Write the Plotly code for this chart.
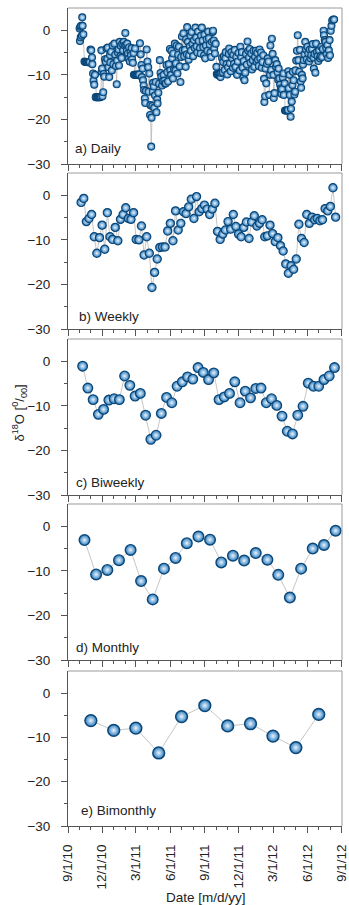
import pandas as pd
import plotly.graph_objects as go

# ---------------- data ----------------
START = "2010-09-01"

# daily samples: day offset from 9/1/2010 and value
daily_day = [31, 32, 33, 34, 35, 37, 38, 39, 41, 44, 46, 48, 50, 52, 54, 56, 58,
             60, 62, 64, 65, 67, 68, 70, 72,
             74, 76, 78, 80, 82, 84, 86, 88, 89, 90, 91, 92, 94, 95, 97,
             99, 101, 103, 105, 106, 108, 110, 112, 113, 115, 117, 119, 121, 124, 126,
             128, 130, 131, 133, 135, 136, 138, 140, 141, 143, 145, 147, 149, 151, 153, 155,
             157, 158, 160, 162, 163, 165, 167, 168, 170, 171, 173, 175,
             176, 178, 179, 180, 182, 184, 186, 188, 190,
             192, 194, 196, 197, 199, 200, 202, 203, 205, 206, 208, 210, 212, 214, 215, 217,
             219, 220, 222, 223, 225, 226, 227, 229, 230, 232, 234, 236, 238, 239, 241, 243,
             245, 247, 249, 251, 253, 255, 257, 259, 261, 263, 265, 267, 269,
             272, 273, 275, 276, 278, 280, 281, 283, 285, 287, 288, 290, 292, 294, 296, 298, 300, 302, 304, 306, 308, 310,
             312, 314, 315, 317, 318, 320, 322, 323, 325, 327, 328, 330, 332, 334, 336, 338, 340, 342, 343, 345, 347, 349,
             352, 354, 355, 357, 359, 361, 363, 364, 366, 368, 370, 372, 374, 376, 378, 380, 382, 384, 386, 387, 389, 390, 392, 394,
             396, 397, 399, 401, 403, 405, 407, 409,
             411, 413, 414, 416, 418, 420, 421, 423, 425, 427, 429, 430, 432, 434, 436, 438, 440, 441, 443, 445, 447, 449, 451, 453, 455,
             458, 460, 462, 464, 466, 468, 469, 471, 473, 475, 477, 479, 481, 483, 485, 487, 489, 491, 493, 495, 497,
             499, 501, 503, 505, 507, 509, 511, 513, 515, 517, 519, 521, 523, 524, 526, 527, 529, 531,
             533, 535, 537, 539, 540, 542, 544, 546, 548, 549, 551, 553, 555,
             557, 559, 561, 562, 564, 566, 568, 570, 571, 573, 575, 576, 578, 579, 581, 583, 585, 587, 588, 589, 591, 592, 594, 595,
             597, 599, 600, 602, 604, 606, 607, 609, 611, 613, 615, 617,
             619, 621, 622, 624, 626, 627, 629, 631, 633, 635, 637, 639, 641, 643, 645, 647, 649,
             651, 653, 655, 656, 658, 660, 662, 664, 666, 668, 670, 672, 674, 676, 678, 680, 682, 683, 685,
             687, 689, 690, 692, 694, 696, 698, 699, 701, 703, 705, 708, 710]
daily_val = [0.4, -2.4, 0.8, -1.6, 1.0, -1.2, 2.9, 1.0, -0.9, -7.0, -7.1, -7.1, -7.1, -7.1, -7.1, -7.2, -7.1,
             -4.3, -4.5, -6.1, -7.6, -9.7, -11.3, -12.2, -10.0,
             -15.0, -15.0, -15.0, -15.0, -15.0, -15.0, -15.0, -14.9, -4.5, -9.3, -8.6, -14.8, -13.9, -9.8, -10.4,
             -6.5, -7.1, -4.1, -6.4, -3.9, -8.3, -10.5, -5.6, -7.2, -4.8, -9.0, -3.4, -7.6, -3.0, -5.5,
             -8.0, -12.1, -6.8, -5.0, -4.3, -7.9, -2.6, -5.8, -3.5, -6.2, -3.0, -4.5, -2.6, -3.4, -0.6, -3.3,
             -4.6, -3.0, -5.2, -6.4, -3.8, -7.0, -4.9, -5.6, -4.0, -6.5, -7.3, -5.1,
             -10.0, -10.0, -4.1, -10.0, -10.0, -10.0, -10.0, -10.0, -9.9,
             -2.9, -5.4, -7.8, -10.5, -8.6, -11.2, -12.4, -13.4, -15.3, -16.3, -13.6, -4.3, -7.0, -8.3, -13.8, -9.7,
             -19.0, -16.8, -26.1, -19.6, -17.0, -13.8, -11.8, -12.6, -17.4, -14.6, -11.6, -18.4, -15.5, -16.4, -14.0, -12.0,
             -6.7, -9.6, -10.4, -12.4, -11.4, -10.0, -11.3, -12.0, -11.9, -7.8, -9.4, -11.5, -7.6,
             -4.2, -9.0, -10.0, -4.6, -6.3, -10.8, -5.2, -8.8, -3.0, -9.0, -7.4, -3.4, -9.7, -5.5, -3.7, -8.1, -11.6, -6.0, -1.4, -4.5, -0.7, -5.8,
             -4.4, -8.2, -2.0, -5.4, 0.7, -2.6, -6.6, -5.6, -3.6, -1.2, -4.6, -0.4, -3.0, -5.8, -2.2, -4.0, 0.6, -1.6, -3.6, -5.0, -0.3, -2.4,
             -4.0, -5.2, -1.2, 0.6, -2.3, -3.8, -5.6, -1.0, -6.3, -3.4, -2.0, -4.6, -0.3, -1.8, -3.2, -5.0, -6.0, -2.6, -0.4, -0.1, -2.3, -4.1, -5.2, -3.0,
             -8.2, -9.8, -10.0, -10.0, -10.0, -9.9, -10.5, -9.6,
             -6.2, -9.4, -7.1, -5.8, -8.9, -6.3, -4.9, -7.6, -9.9, -8.3, -5.3, -4.1, -7.4, -9.2, -4.9, -6.3, -8.4, -5.5, -7.5, -4.4, -8.2, -6.0, -10.0, -7.0, -5.1,
             -9.0, -3.7, -6.0, -4.9, -8.4, -10.6, -6.9, -11.2, -9.5, -5.3, -7.7, -2.5, -4.6, -6.1, -4.2, -7.3, -5.2, -8.8, -6.7, -4.6, -8.2,
             -6.0, -4.6, -7.0, -5.1, -6.6, -8.0, -4.3, -6.3, -5.0, -8.4, -7.1, -5.6, -10.9, -16.1, -14.8, -8.6, -11.9, -7.5,
             -6.3, -7.0, -14.5, -10.0, -3.4, -8.9, -1.9, -5.3, -10.0, -15.2, -14.1, -6.7, -8.2,
             -7.6, -9.4, -11.1, -8.6, -10.8, -12.2, -13.0, -14.3, -13.2, -10.6, -9.7, -14.5, -11.9, -18.0, -18.0, -18.0, -18.0, -17.9, -9.2, -13.0, -10.0, -14.5, -19.4, -17.6,
             -16.0, -12.3, -9.3, -11.2, -14.4, -13.8, -9.0, -6.8, -4.6, -1.1, -6.7, -9.3,
             -4.4, -11.5, -12.9, -10.0, -10.8, -7.7, -6.7, -5.4, -2.6, -4.3, -6.5, -3.7, -5.2, -7.0, -4.3, -6.3, -5.6,
             -4.2, -3.1, -6.1, -8.6, -5.3, -9.5, -3.0, -4.9, -5.8, -6.9, -4.5, -6.3, -5.8, -3.7, -6.0, -4.2, -0.1, -1.1, -2.2,
             -2.6, -4.0, -5.4, -3.3, -6.2, -4.5, -2.2, -5.6, -0.1, 1.0, 2.2, 2.4, 2.4]

weekly_start = "2010-10-06"
weekly_val = [-1.6, -0.7, -5.9, -5.2, -4.3, -9.3, -13.0, -9.5, -6.7, -12.1,
              -3.9, -9.3, -9.9, -7.2, -10.2, -5.4, -4.3, -2.8, -5.2, -5.4,
              -3.9, -9.9, -10.0, -6.9, -13.4, -9.3, -13.0, -20.7, -17.3, -14.3,
              -11.7, -11.6, -11.6, -8.0, -6.3, -10.2, -3.5, -7.8, -6.3, -3.7,
              -4.1, -2.6, -0.9, -5.2, -0.3, -3.7, -3.0, -2.2, -3.1, -4.3,
              -3.1, -1.8, -8.1, -9.9, -8.7, -7.8, -5.9, -7.6, -4.3, -7.0,
              -8.7, -9.3, -7.2, -6.0, -9.7, -6.0, -4.6, -6.9, -6.3, -5.5,
              -9.3, -9.1, -6.7, -8.6, -10.4, -9.5, -11.3, -12.5, -15.4, -17.5,
              -15.8, -16.6, -14.3, -6.5, -9.7, -10.6, -4.3, -6.3, -4.9, -5.5,
              -5.2, -5.7, -5.5, -3.0, -3.5, -2.5, 1.7, -4.9]

biweekly_start = "2010-10-10"
biweekly_val = [-1.1, -6.0, -8.6, -11.9, -10.8, -8.7, -8.4, -8.6, -3.3, -5.4,
                -7.8, -7.2, -12.1, -17.5, -16.6, -11.7, -8.1, -9.3, -5.6, -4.6,
                -3.5, -4.0, -1.4, -2.5, -4.1, -2.6, -8.6, -8.0, -7.2, -4.6,
                -9.3, -6.7, -8.2, -6.1, -6.0, -9.3, -8.4, -9.9, -12.3, -15.7,
                -16.3, -12.1, -10.1, -4.9, -5.6, -5.6, -4.1, -3.3, -1.4]

monthly_dates = ["2010-10-15", "2010-11-15", "2010-12-15", "2011-01-15", "2011-02-15",
                 "2011-03-15", "2011-04-15", "2011-05-15", "2011-06-15", "2011-07-15",
                 "2011-08-15", "2011-09-15", "2011-10-15", "2011-11-15", "2011-12-15",
                 "2012-01-15", "2012-02-15", "2012-03-15", "2012-04-15", "2012-05-15",
                 "2012-06-15", "2012-07-15", "2012-08-15"]
monthly_val = [-3.1, -10.8, -9.8, -7.6, -5.3, -12.3, -16.4, -9.5, -7.1, -3.8,
               -2.3, -3.0, -8.1, -6.6, -7.7, -6.0, -7.5, -10.9, -16.0, -9.5,
               -5.0, -4.2, -1.0]

bimonthly_dates = ["2010-11-01", "2011-01-01", "2011-03-01", "2011-05-01", "2011-07-01",
                   "2011-09-01", "2011-11-01", "2012-01-01", "2012-03-01", "2012-05-01",
                   "2012-07-01"]
bimonthly_val = [-6.2, -8.4, -7.9, -13.5, -5.3, -2.8, -7.4, -6.9, -9.7, -12.3, -4.8]

panel_labels = ["a) Daily", "b) Weekly", "c) Biweekly", "d) Monthly", "e) Bimonthly"]
y_ticks = [-30, -20, -10, 0]
x_ticks = ["2010-09-01", "2010-12-01", "2011-03-01", "2011-06-01", "2011-09-01",
           "2011-12-01", "2012-03-01", "2012-06-01", "2012-09-01"]

# ---------------- build ----------------
start = pd.Timestamp(START)
daily_x = [start + pd.Timedelta(days=d) for d in daily_day]
weekly_x = pd.date_range(weekly_start, periods=len(weekly_val), freq="7D")
biweekly_x = pd.date_range(biweekly_start, periods=len(biweekly_val), freq="14D")

series = [
    (daily_x, daily_val, 7.0, 1.1),
    (weekly_x, weekly_val, 8.2, 1.2),
    (biweekly_x, biweekly_val, 9.6, 1.3),
    (pd.to_datetime(monthly_dates), monthly_val, 10.6, 1.4),
    (pd.to_datetime(bimonthly_dates), bimonthly_val, 11.8, 1.5),
]

W, H = 349, 905
ML, MR, MT, MB = 68, 7, 8, 79
PH = H - MT - MB
# panel pixel extents (top, bottom)
panels_px = [(8, 164), (173, 329), (339, 495), (504, 660), (671, 826)]
label_px = [(73.3, 15.7), (76.7, 12.3), (74, 12.3), (74, 12.3), (79, 16)]

FONT = "Liberation Sans, Arial, sans-serif"
fig = go.Figure()
layout = dict(
    width=W, height=H,
    margin=dict(l=ML, r=MR, t=MT, b=MB, autoexpand=False),
    paper_bgcolor="white", plot_bgcolor="white",
    showlegend=False,
    font=dict(family=FONT, size=13.5, color="#222"),
)
shapes = []
annotations = []
for i, ((xs, ys, msize, mline), lab) in enumerate(zip(series, panel_labels)):
    n = i + 1
    xa = "x" if n == 1 else f"x{n}"
    ya = "y" if n == 1 else f"y{n}"
    fig.add_trace(go.Scatter(
        x=xs, y=ys, mode="lines+markers", xaxis=xa, yaxis=ya,
        line=dict(color="#b8b8b8", width=0.8),
        marker=dict(size=msize, color="#2a7cbc",
                    gradient=dict(type="radial", color="#eaf4ff"),
                    line=dict(color="#0b4677", width=mline)),
        hoverinfo="skip", cliponaxis=False,
    ))
    top, bot = panels_px[i]
    d0 = (H - MB - bot) / PH
    d1 = (H - MB - top) / PH
    last = (n == 5)
    layout[f"xaxis{'' if n == 1 else n}"] = dict(
        domain=[0, 1], anchor=ya, range=["2010-09-01", "2012-09-01 02:00"],
        type="date", tickmode="array", tickvals=x_ticks,
        tickformat="%-m/%-d/%y", tickangle=-90, automargin=False,
        ticklabeloverflow="allow",
        showticklabels=last, ticks="outside", ticklen=6, tickwidth=1,
        tickcolor="#555", showline=True, linecolor="#555", linewidth=1,
        mirror=False, showgrid=False, zeroline=False,
        ticklabelstandoff=6,
        tickfont=dict(size=13.5, color="#222"),
        minor=dict(dtick="M1", tick0="2010-09-01", ticks="outside",
                   ticklen=3, tickcolor="#555", showgrid=False),
    )
    layout[f"yaxis{'' if n == 1 else n}"] = dict(
        domain=[d0, d1], anchor=xa, range=[-30, 5], automargin=False,
        tickmode="array", tickvals=y_ticks, ticks="outside", ticklen=6,
        tickwidth=1, tickcolor="#555", showline=True, linecolor="#555",
        linewidth=1, mirror=False, showgrid=False, zeroline=False,
        ticklabelstandoff=8,
        tickfont=dict(size=13.5, color="#222"),
        minor=dict(tickvals=[-25, -15, -5], ticks="outside", ticklen=3,
                   tickcolor="#555", showgrid=False),
    )
    # light frame on top and right
    shapes.append(dict(type="line", xref=f"{xa} domain", yref=f"{ya} domain",
                       x0=0, x1=1, y0=1, y1=1, line=dict(color="#9a9a9a", width=1)))
    shapes.append(dict(type="line", xref=f"{xa} domain", yref=f"{ya} domain",
                       x0=1, x1=1, y0=0, y1=1, line=dict(color="#9a9a9a", width=1)))
    lx, ly = label_px[i]
    annotations.append(dict(
        text=lab, xref=f"{xa} domain", yref=f"{ya} domain",
        x=(lx - ML) / (W - ML - MR), y=ly / (bot - top),
        xanchor="left", yanchor="middle", showarrow=False,
        font=dict(size=13.5, color="#222", family=FONT)))

annotations.append(dict(
    text="δ<sup>18</sup>O [<sup>0</sup>/<sub>00</sub>]", xref="paper", yref="paper",
    x=(19.5 - ML) / (W - ML - MR), y=(H - MB - 413) / PH, textangle=-90,
    xanchor="center", yanchor="middle", showarrow=False,
    font=dict(size=13, color="#222", family=FONT)))
annotations.append(dict(
    text="Date [m/d/yy]", xref="paper", yref="paper",
    x=(205.7 - ML) / (W - ML - MR), y=(H - MB - 897.3) / PH,
    xanchor="center", yanchor="middle", showarrow=False,
    font=dict(size=13.5, color="#222", family=FONT)))

layout["shapes"] = shapes
layout["annotations"] = annotations
fig.update_layout(**layout)
fig.write_html(
    "out.html",
    config={"displayModeBar": False, "staticPlot": True},
    post_script="document.body.style.margin='0';document.body.style.padding='0';"
                "document.documentElement.style.overflow='hidden';",
)
